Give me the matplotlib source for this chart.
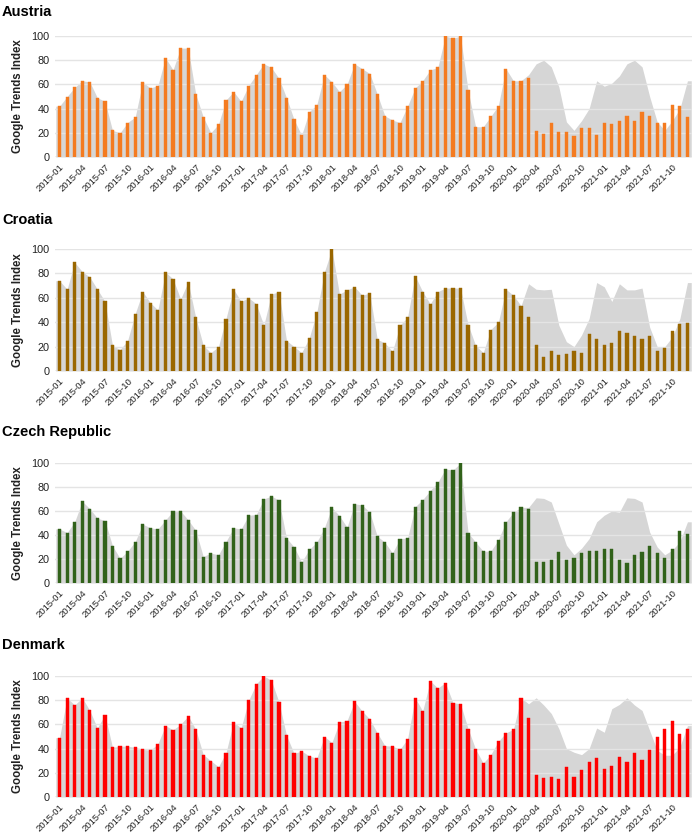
import numpy as np
import matplotlib
matplotlib.use("Agg")
import matplotlib.pyplot as plt

plt.rcParams['font.family'] = ['Liberation Sans', 'DejaVu Sans']

# months 2015-01 .. 2021-12
months = [f"{y}-{m:02d}" for y in range(2015, 2022) for m in range(1, 13)]

# observed Google Trends index (bars)
austria = [42, 50, 57.5, 63, 62, 49, 46, 22, 20, 28.5, 33, 62,
           57, 59, 82, 72, 90, 90, 52, 33, 20, 27, 47, 54,
           46, 59, 68, 77, 74, 65, 49, 31, 18, 37.5, 43, 68,
           62, 54, 60, 77, 73, 69, 52, 34, 30.5, 28.5, 42, 57,
           63, 72, 74, 100, 98, 100, 55, 25, 25, 33.5, 42.5, 73,
           63, 63, 65, 21.5, 19, 28, 21, 21, 17, 24, 24, 18.5,
           28, 27, 30, 33.5, 30, 37, 33.5, 28, 28, 43, 42.5, 33]
croatia = [74, 67, 89, 81.5, 77, 67, 57, 21, 17.5, 25, 47, 65,
           56, 50, 81, 75.5, 59, 73, 44, 21, 15, 20, 43, 67,
           57, 60, 55, 37.5, 63, 65, 25, 20, 15, 27, 48, 81,
           100, 63, 66.5, 69, 62, 64, 26, 23, 16, 37.5, 44, 78,
           65, 55, 65, 68, 68, 68, 38, 21, 15, 34, 40, 67,
           62, 53.5, 44, 21, 11.5, 16, 13, 14, 16, 15, 30, 26,
           21, 23, 33, 31, 29, 26, 29, 16, 19, 33, 38.5, 39]
czech = [45, 42, 51, 68, 62, 54, 52, 31, 20.5, 26.5, 34.5, 49,
         46, 45, 52.5, 60, 60, 52.5, 44, 22, 25, 23.5, 34.5, 46,
         45, 56.5, 57, 70, 72.5, 69, 37.5, 30, 17.5, 28, 34, 46,
         63, 56, 46.5, 66, 65, 59, 39, 34, 25, 37, 37.5, 63.5,
         69.5, 77, 84, 95, 94, 100, 42, 34, 26.5, 26.5, 36, 51,
         59, 63, 62, 17.5, 17.5, 19, 25.5, 19.5, 20.5, 25, 26.5, 26.5,
         28, 28, 19.5, 16.5, 23.5, 25.5, 31, 25, 20.5, 28, 43.5, 40.5]
denmark = [49, 82, 76, 82, 71.5, 57, 68, 41, 42, 42, 41, 39.5,
           38.5, 44, 59, 55.5, 60, 67, 56, 35, 30, 25, 36.5, 62,
           57, 80, 93.5, 100, 96.5, 78.5, 51, 36, 38, 34, 32, 50,
           45, 62, 63, 79, 71, 64.5, 53, 42.5, 42, 39.5, 48, 82,
           71, 96, 90, 94.5, 78, 77, 56.5, 39.5, 28, 35, 46, 53,
           56, 82, 65.5, 18, 15.5, 16.5, 15, 25, 16.5, 22, 29, 32,
           23, 26, 33, 29, 36.5, 30.5, 39, 50, 56.5, 63, 52, 56]

# expected (no-pandemic) index, 2020-03 .. 2021-12 (grey area)
austria_exp = [68, 77, 80, 74.5, 58, 29, 22, 30, 40, 63, 58.5,
               61, 67, 77, 80, 74.5, 50, 29, 22, 30, 40, 63]
croatia_exp = [71.5, 67, 66.5, 67, 37.5, 24, 20, 29.5, 43, 72.5, 69,
               57, 71.5, 66.5, 66.5, 68, 36, 20, 20, 28, 43, 72.5]
czech_exp = [63, 71, 70.5, 67.5, 49.5, 31.5, 23.5, 29, 37, 51, 56.5,
             60, 59, 71, 70.5, 67.5, 42.5, 30, 23.5, 27.5, 34.5, 51]
denmark_exp = [77, 82, 76, 69, 56.5, 40, 37, 35, 40, 57, 53.5,
               73, 76.5, 82, 76, 71.5, 55, 38.5, 34.5, 34.5, 41.5, 59]

countries = ['Austria', 'Croatia', 'Czech Republic', 'Denmark']
bar_data = [austria, croatia, czech, denmark]
exp_data = [austria_exp, croatia_exp, czech_exp, denmark_exp]
colors = ['#F47B20', '#9A6700', '#31621A', '#FF0000']

fig = plt.figure(figsize=(6.94, 8.39), dpi=100)

W, H = 694, 839
# (axes top px, axes bottom px, title y px)
panels = [(36, 157, 12), (249, 371, 220), (463, 583, 432), (676, 797, 645)]
left_px, right_px = 55, 692

x = np.arange(len(months))
for name, vals, exp, col, (top, bot, ty) in zip(countries, bar_data, exp_data, colors, panels):
    ax = fig.add_axes([left_px / W, 1 - bot / H, (right_px - left_px) / W, (bot - top) / H])
    n_obs = len(vals) - len(exp)
    grey = np.array(vals[:n_obs] + exp, dtype=float)
    gx = np.r_[-0.5, x, x[-1] + 0.5]
    gy = np.r_[grey[0], grey, grey[-1]]
    ax.fill_between(gx, 0, gy, color='#D6D6D6', lw=0, zorder=1)
    ax.bar(x, vals, width=0.42, color=col, edgecolor=col, linewidth=0.3, zorder=3)
    ax.set_xlim(-0.6, len(months) - 0.4)
    ax.set_ylim(0, 100)
    ax.set_yticks(range(0, 101, 20))
    ax.yaxis.grid(True, color='#E4E4E4', lw=1.0, zorder=2)
    ax.set_axisbelow(False)
    for s in ax.spines.values():
        s.set_visible(False)
    ax.axhline(0, color='#D0D0D0', lw=1.0, zorder=2)
    ax.set_xticks(x[::3])
    ax.set_xticklabels(months[::3], rotation=45, ha='right', rotation_mode='anchor',
                       fontsize=6.8, color='#222222')
    ax.tick_params(axis='both', length=0, pad=4)
    ax.tick_params(axis='y', labelsize=7.8, labelcolor='#222222', pad=4)
    ax.set_ylabel('Google Trends Index', fontsize=8.3, fontweight='bold', color='#222222', labelpad=5)
    fig.text(2 / W, 1 - ty / H, name, fontsize=10.5, fontweight='bold', va='center', ha='left')

fig.savefig('out.png', dpi=100)
